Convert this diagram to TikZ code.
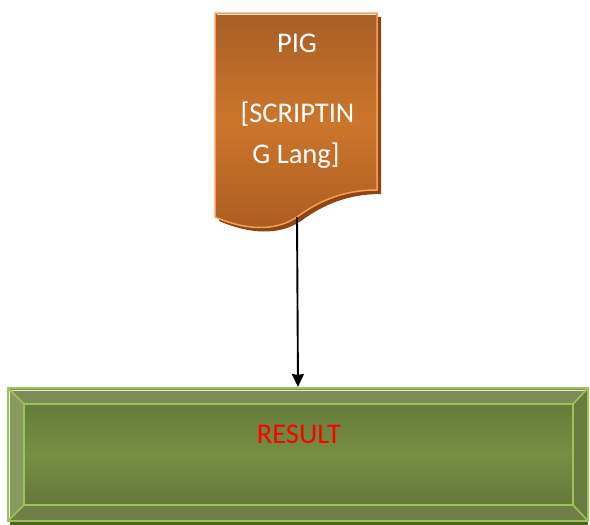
\documentclass[tikz,border=0pt]{standalone}
\usepackage{fontspec}
\setmainfont{Carlito}
\usetikzlibrary{arrows.meta}
\definecolor{orTop}{RGB}{168,94,38}
\definecolor{orMid}{RGB}{204,118,44}
\definecolor{orBot}{RGB}{172,92,34}
\definecolor{orLine}{RGB}{246,160,92}
\definecolor{orShadow}{RGB}{140,70,20}
\definecolor{grTop}{RGB}{100,124,60}
\definecolor{grMid}{RGB}{118,143,66}
\definecolor{grBot}{RGB}{100,120,60}
\definecolor{grLine}{RGB}{155,196,86}
\definecolor{grBandT}{RGB}{126,138,88}
\definecolor{grBandL}{RGB}{136,154,98}
\definecolor{grBandR}{RGB}{104,124,64}
\definecolor{grBandB}{RGB}{112,126,72}
\definecolor{grShadow}{RGB}{78,98,40}
\definecolor{txtRed}{RGB}{255,0,0}
\tikzset{
  bigtext/.style={font=\fontsize{28.5}{34}\selectfont, inner sep=0pt},
  pigtext/.style={bigtext, text=white, anchor=base},
  bandline/.style={draw=grLine, line width=1.6pt},
  conn/.style={draw=black, line width=1.9pt, -{Stealth[length=13pt,width=12pt,inset=1pt]}}
}
\begin{document}
\begin{tikzpicture}[x=1pt,y=-1pt]
\useasboundingbox (0,0) rectangle (590,525);
% ---------- document shape (PIG) ----------
\coordinate (dTL) at (215,13);
\coordinate (dTR) at (377,13);
\coordinate (dBR) at (377,190);
\coordinate (dMid) at (297,217);
\coordinate (dBL) at (215,217);
% shadow
\fill[orShadow] ([shift={(4,4)}]dTL) -- ([shift={(4,4)}]dTR) -- ([shift={(4,4)}]dBR)
  .. controls (349,194) and (324,204) .. (301,221)
  .. controls (279,236) and (249,234) .. ([shift={(4,4)}]dBL) -- cycle;
% body
\shade[top color=orTop, bottom color=orBot, middle color=orMid, draw=orLine, line width=1.5pt]
  (dTL) -- (dTR) -- (dBR)
  .. controls (345,190) and (320,200) .. (dMid)
  .. controls (275,232) and (245,230) .. (dBL) -- cycle;
\draw[white!80!orLine, line width=1pt] (216.5,14.8) -- (375.5,14.8);
\node[pigtext] (pig) at (297,52) {PIG};
\node[pigtext] (scr) at (297.5,122) {[SCRIPTIN};
\node[pigtext] (lang) at (296,163) {G Lang]};
% ---------- result box ----------
\coordinate (oTL) at (8,388);
\coordinate (oTR) at (588,388);
\coordinate (oBR) at (588,521);
\coordinate (oBL) at (8,521);
\coordinate (iTL) at (24,404);
\coordinate (iTR) at (573,404);
\coordinate (iBR) at (573,505);
\coordinate (iBL) at (24,505);
\fill[grShadow] (10,521) rectangle (588,525);
\fill[grBandT] (oTL) -- (oTR) -- (iTR) -- (iTL) -- cycle;
\fill[grBandL] (oTL) -- (iTL) -- (iBL) -- (oBL) -- cycle;
\fill[grBandR] (oTR) -- (oBR) -- (iBR) -- (iTR) -- cycle;
\fill[grBandB] (oBL) -- (iBL) -- (iBR) -- (oBR) -- cycle;
\shade[top color=grTop, bottom color=grBot, middle color=grMid] (iTL) rectangle (iBR);
\draw[white!75!grLine, line width=1.2pt] (10,390.5) -- (585,390.5);
\draw[white!75!grLine, line width=1.2pt] (9.8,390.5) -- (9.8,518);
\draw[bandline] (oTL) -- (iTL) (oTR) -- (iTR) (oBR) -- (iBR) (oBL) -- (iBL);
\draw[bandline] (iTL) rectangle (iBR);
\draw[bandline] (oTL) rectangle (oBR);
\node[bigtext, text=txtRed, anchor=base] (res) at (299,443) {RESULT};
\coordinate (arrEnd) at (298,387);
% ---------- connector ----------
\draw[conn] (dMid) -- (arrEnd);
\end{tikzpicture}
\end{document}
